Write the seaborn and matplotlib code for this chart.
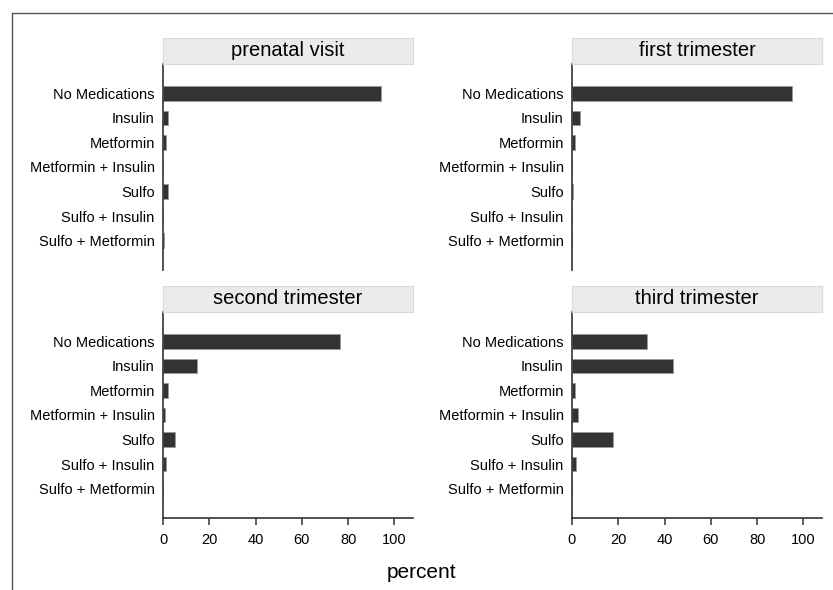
import matplotlib
matplotlib.use("Agg")
import matplotlib.pyplot as plt
from matplotlib.lines import Line2D
import seaborn as sns
import pandas as pd

# Treatment categories (top to bottom)
medications = [
    "No Medications",
    "Insulin",
    "Metformin",
    "Metformin + Insulin",
    "Sulfo",
    "Sulfo + Insulin",
    "Sulfo + Metformin",
]

# Percent of patients on each treatment, per period
prenatal_visit = [94.0, 2.2, 1.5, 0.0, 2.0, 0.0, 0.5]
first_trimester = [95.0, 3.4, 1.1, 0.0, 0.5, 0.0, 0.0]
second_trimester = [76.3, 14.9, 2.0, 0.9, 5.3, 1.4, 0.0]
third_trimester = [32.3, 43.8, 1.2, 2.6, 17.7, 1.9, 0.0]

periods = ["prenatal visit", "first trimester", "second trimester", "third trimester"]
x_ticks = [0, 20, 40, 60, 80, 100]

df = pd.concat(
    [
        pd.DataFrame({"period": p, "medication": medications, "percent": v})
        for p, v in zip(periods, [prenatal_visit, first_trimester,
                                  second_trimester, third_trimester])
    ],
    ignore_index=True,
)

sns.set_theme(style="white")
plt.rcParams["font.family"] = ["Liberation Sans", "DejaVu Sans"]

W, H = 833, 590
fig = plt.figure(figsize=(W / 100, H / 100), dpi=100)
fig.patch.set_facecolor("white")

ink = "#333333"
cols = [163, 572]
rows = [64, 312]          # top edge of each panel row (px)
panel_w, panel_h, strip_h = 250, 206, 26

for i, period in enumerate(periods):
    r, c = divmod(i, 2)
    left = cols[c] / W
    bottom = 1 - (rows[r] + panel_h) / H
    ax = fig.add_axes([left, bottom, panel_w / W, panel_h / H])

    sub = df[df["period"] == period]
    sns.barplot(data=sub, x="percent", y="medication", order=medications,
                color=ink, saturation=1, width=0.6, orient="h",
                edgecolor="#9a9a9a", linewidth=0.6, ax=ax, errorbar=None)

    ax.set_xlim(0, 108)
    ax.set_ylim(len(medications) - 1 + 1.2, -1.2)
    ax.set_xlabel("")
    ax.set_ylabel("")
    ax.set_facecolor("white")
    for s in ["top", "right"]:
        ax.spines[s].set_visible(False)
    ax.spines["left"].set_color(ink)
    ax.spines["left"].set_linewidth(1.2)
    ax.tick_params(axis="y", length=0, pad=6, labelsize=10.5, colors="black")
    if r == 0:
        ax.spines["bottom"].set_visible(False)
        ax.set_xticks([])
    else:
        ax.spines["bottom"].set_color(ink)
        ax.spines["bottom"].set_linewidth(1.2)
        ax.set_xticks(x_ticks)
        ax.tick_params(axis="x", bottom=True, length=5, width=1.1, color=ink,
                       pad=6, labelsize=10.5, labelcolor="black")

    # facet strip above the panel
    sax = fig.add_axes([left, 1 - rows[r] / H, panel_w / W, strip_h / H])
    sax.set_facecolor("#ebebeb")
    sax.set_xticks([])
    sax.set_yticks([])
    for s in sax.spines.values():
        s.set_color("#dadada")
        s.set_linewidth(0.8)
    sax.text(0.5, 0.5, period, ha="center", va="center", fontsize=14.5,
             color="black", transform=sax.transAxes)

fig.text(421 / W, 1 - 572 / H, "percent", ha="center", va="center",
         fontsize=15, color="black")

# thin frame along the top and left edges
fig.add_artist(Line2D([12 / W, 1], [1 - 13 / H, 1 - 13 / H],
                      transform=fig.transFigure, color="#555555", lw=1.0))
fig.add_artist(Line2D([12 / W, 12 / W], [0, 1 - 13 / H],
                      transform=fig.transFigure, color="#555555", lw=1.0))

fig.savefig("out.png", dpi=100, facecolor="white")
